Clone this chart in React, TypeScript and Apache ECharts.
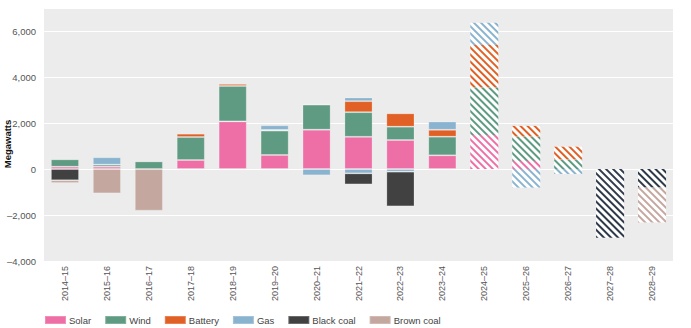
import React, { useEffect, useRef } from "react";
import * as echarts from "echarts";

const categories = [
  "2014–15", "2015–16", "2016–17", "2017–18", "2018–19", "2019–20", "2020–21",
  "2021–22", "2022–23", "2023–24", "2024–25", "2025–26", "2026–27", "2027–28", "2028–29",
];

// Historical (2014–15 .. 2023–24)
const solarHist = [100, 100, null, 390, 2070, 610, 1710, 1400, 1260, 595];
const windHist = [320, 90, 330, 1000, 1540, 1060, 1090, 1070, 580, 810];
const batteryHist = [null, null, null, 145, 90, 30, 30, 480, 580, 300];
const gasInHist = [null, 320, null, null, null, 200, null, 160, null, 360];
const gasOutHist = [null, null, null, null, null, null, -275, -190, -115, null];
const blackCoalHist = [-490, null, null, null, null, null, null, -480, -1510, null];
const brownCoalHist = [-120, -1060, -1810, null, null, null, null, null, null, null];

// Projected (2024–25 .. 2028–29)
const solarProj = [1480, 350, null, null, null];
const windProj = [2070, 1060, 420, null, null];
const batteryProj = [1840, 465, 550, null, null];
const gasInProj = [970, null, null, null, null];
const gasOutProj = [null, -810, -215, null, null];
const blackCoalProj = [null, null, null, -2990, -810];
const brownCoalProj = [null, null, null, null, -1520];

const yTicks = [-4000, -2000, 0, 2000, 4000, 6000];

const COLORS = {
  Solar: "#ee6fa6",
  Wind: "#5e9b82",
  Battery: "#e06025",
  Gas: "#8ab3cf",
  "Black coal": "#414141",
  "Brown coal": "#c4a79e",
};
const PROJ_COLORS = {
  Solar: "#ee6fa6",
  Wind: "#5e9b82",
  Battery: "#e06025",
  Gas: "#8ab3cf",
  "Black coal": "#2f3a4a",
  "Brown coal": "#c4a79e",
};

const legendNames = ["Solar", "Wind", "Battery", "Gas", "Black coal", "Brown coal"];

const nH = 10;
const nP = 5;
const padHist = (a: (number | null)[]) => [...a, ...Array(nP).fill(null)];
const padProj = (a: (number | null)[]) => [...Array(nH).fill(null), ...a];

export default function App() {
  const ref = useRef<HTMLDivElement>(null);
  useEffect(() => {
    if (!ref.current) return;
    const chart = echarts.init(ref.current, undefined, { renderer: "svg" });

    const histSeries = (name: string, key: string, data: (number | null)[], showName = true) => ({
      name: showName ? name : name + " ",
      type: "bar",
      stack: "total",
      barWidth: "67%",
      data: padHist(data),
      itemStyle: {
        color: (COLORS as any)[key],
        borderColor: "rgba(255,255,255,0.22)",
        borderWidth: 1,
      },
    });
    const projSeries = (name: string, key: string, data: (number | null)[]) => ({
      name,
      type: "bar",
      stack: "total",
      barWidth: "67%",
      data: padProj(data),
      itemStyle: {
        color: "#ffffff",
        decal: {
          symbol: "rect",
          symbolSize: 1,
          color: (PROJ_COLORS as any)[key],
          dashArrayX: [1, 0],
          dashArrayY: [1.6, 2.6],
          rotation: Math.PI / 4,
        },
      },
    });

    const series = [
      histSeries("Solar", "Solar", solarHist),
      histSeries("Wind", "Wind", windHist),
      histSeries("Battery", "Battery", batteryHist),
      histSeries("Gas", "Gas", gasInHist),
      histSeries("Gas", "Gas", gasOutHist, false),
      histSeries("Black coal", "Black coal", blackCoalHist),
      histSeries("Brown coal", "Brown coal", brownCoalHist),
      projSeries("Solar (projected)", "Solar", solarProj),
      projSeries("Wind (projected)", "Wind", windProj),
      projSeries("Battery (projected)", "Battery", batteryProj),
      projSeries("Gas (projected)", "Gas", gasInProj),
      projSeries("Gas out (projected)", "Gas", gasOutProj),
      projSeries("Black coal (projected)", "Black coal", blackCoalProj),
      projSeries("Brown coal (projected)", "Brown coal", brownCoalProj),
    ];

    chart.setOption({
      animation: false,
      textStyle: { fontFamily: "Liberation Sans, Arial, sans-serif" },
      grid: {
        left: 44,
        right: 18,
        top: 8,
        bottom: 67,
        show: true,
        backgroundColor: "#ececec",
        borderWidth: 0,
      },
      legend: {
        data: legendNames.map((n) => ({ name: n, itemStyle: { color: (COLORS as any)[n] } })),
        left: 39,
        top: 310,
        icon: "rect",
        itemWidth: 21,
        itemHeight: 8,
        itemGap: 13,
        textStyle: { fontSize: 9.5, color: "#444", padding: [0, 0, 0, -2] },
        selectedMode: false,
      },
      xAxis: {
        type: "category",
        data: categories,
        axisLine: { show: false },
        axisTick: { show: false },
        axisLabel: {
          rotate: 90,
          fontSize: 9,
          color: "#555",
          margin: 5,
          interval: 0,
        },
      },
      yAxis: {
        type: "value",
        min: -4000,
        max: 7000,
        interval: 2000,
        axisLine: { show: false },
        axisTick: { show: false },
        splitLine: { lineStyle: { color: "#ffffff", width: 1 } },
        axisLabel: {
          fontSize: 9.5,
          color: "#555",
          margin: 8,
          formatter: (v: number) => {
            if (!yTicks.includes(v)) return "";
            const s = Math.abs(v).toLocaleString("en-US");
            return v < 0 ? "–" + s : s;
          },
        },
      },
      graphic: [
        {
          type: "text",
          x: 7,
          y: 144,
          rotation: Math.PI / 2,
          style: {
            text: "Megawatts",
            fontSize: 9.5,
            fontWeight: "bold",
            fill: "#111",
            align: "center",
            verticalAlign: "middle",
            fontFamily: "Liberation Sans, Arial, sans-serif",
          },
        },
      ],
      series,
    });
    return () => chart.dispose();
  }, []);
  return (
    <div
      ref={ref}
      style={{ position: "absolute", left: 0, top: 0, width: 691, height: 328 }}
    />
  );
}
